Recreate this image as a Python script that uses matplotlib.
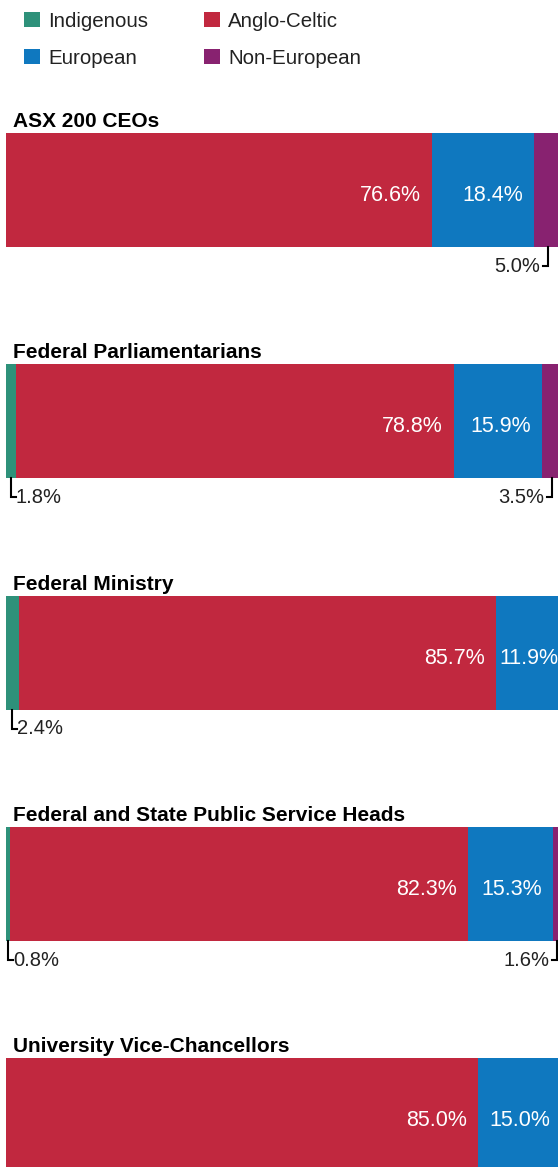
import matplotlib.pyplot as plt
from matplotlib.patches import Rectangle

# groups, top to bottom
groups = ["ASX 200 CEOs", "Federal Parliamentarians", "Federal Ministry",
          "Federal and State Public Service Heads", "University Vice-Chancellors"]
series = ["Indigenous", "Anglo-Celtic", "European", "Non-European"]
indigenous = [0.0, 1.8, 2.4, 0.8, 0.0]
anglo_celtic = [76.6, 78.8, 85.7, 82.3, 85.0]
european = [18.4, 15.9, 11.9, 15.3, 15.0]
non_european = [5.0, 3.5, 0.0, 1.6, 0.0]
colors = ["#2e917a", "#c1283f", "#0f78bf", "#882270"]

W, H = 558, 1167
fig = plt.figure(figsize=(W / 100, H / 100), dpi=100)
plt.rcParams['font.family'] = ['Liberation Sans', 'DejaVu Sans']

# layout in pixels
x0, span = 5.7, 556.0
pitch, first, bar_px = 231.25, 190.0, 114.0
ax = fig.add_axes([x0 / W, 0, span / W, 1])
ax.set_xlim(0, 100)
ax.set_ylim((H - first) / pitch, -first / pitch)
ax.axis('off')
bh = bar_px / pitch
px_x = 100 / span
px_y = 1 / pitch

rows = list(range(len(groups)))
values = [indigenous, anglo_celtic, european, non_european]
lefts = [0.0] * len(groups)
renderer = fig.canvas.get_renderer()

for k, (name, vals, c) in enumerate(zip(series, values, colors)):
    ax.barh(rows, vals, left=lefts, height=bh, color=c, linewidth=0)
    for r, v in enumerate(vals):
        if v <= 0:
            continue
        start = lefts[r]
        mid = start + v / 2
        bottom = r + bh / 2
        label = f"{v:.1f}%"
        if v >= 10:
            t = ax.annotate(label, xy=(start + v, r), xytext=(-11, -11),
                            textcoords='offset pixels', ha='right', va='baseline',
                            color='white', fontsize=15.5)
            w = t.get_window_extent(renderer).width
            if w + 15 > v / px_x:
                t.remove()
                ax.annotate(label, xy=(start, r), xytext=(4, -11),
                            textcoords='offset pixels', ha='left', va='baseline',
                            color='white', fontsize=15.5)
        else:
            side = 1 if k == 0 else -1
            ax.plot([mid, mid, mid + side * 5 * px_x],
                    [bottom, bottom + 19 * px_y, bottom + 19 * px_y],
                    color='black', lw=1.5, solid_joinstyle='miter', clip_on=False)
            ax.annotate(label, xy=(mid, bottom),
                        xytext=(5 if side > 0 else -8, -25),
                        textcoords='offset pixels',
                        ha='left' if side > 0 else 'right', va='baseline',
                        color='#222222', fontsize=14.5)
    lefts = [a + b for a, b in zip(lefts, vals)]

for r, g in enumerate(groups):
    ax.annotate(g, xy=(0, r - bh / 2), xytext=(7.3, 6), textcoords='offset pixels',
                ha='left', va='baseline', fontsize=15, fontweight='bold', color='black')

# legend, two rows of two
legend_pos = [(24, 12, 48, 27), (204, 12, 228, 27), (24, 49, 48, 64), (204, 49, 228, 64)]
order = [0, 1, 2, 3]
for (sx, sy, tx, ty), k in zip(legend_pos, order):
    fig.patches.append(Rectangle((sx / W, 1 - (sy + 15) / H), 16 / W, 15 / H,
                                 transform=fig.transFigure, color=colors[k], lw=0))
    fig.text(tx / W, 1 - ty / H, series[k], ha='left', va='baseline',
             fontsize=14.8, color='#222222')

fig.savefig("out.png", dpi=100)
